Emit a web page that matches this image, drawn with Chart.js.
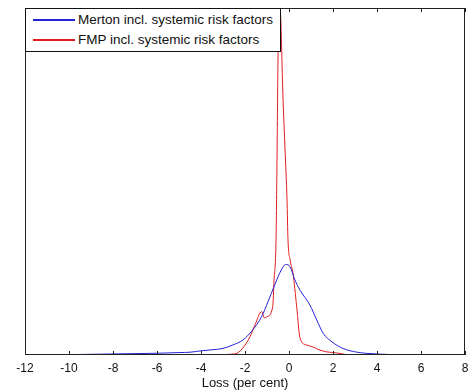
<!DOCTYPE html>
<html lang="en">
<head>
<meta charset="UTF-8">
<title>Loss distribution</title>
<script src="https://cdn.jsdelivr.net/npm/chart.js"></script>
<style>
    body { margin: 0; background: #fff; }
    #wrap { position: relative; width: 468px; height: 391px; }
    #legend {
        position: absolute;
        left: 25px;
        top: 8px;
        width: 256px;
        height: 44px;
        box-sizing: border-box;
        border: 1px solid #111;
        background: #fff;
        font-family: "Liberation Sans", Arial, sans-serif;
        font-size: 13.5px;
        color: #111;
    }
    .row {
        position: absolute;
        left: 0;
        height: 19px;
        display: flex;
        align-items: center;
        white-space: nowrap;
    }
    .swatch {
        display: inline-block;
        width: 42px;
        height: 2px;
        margin: 0 3px 0 7px;
    }
</style>
</head>
<body>
<div id="wrap">
    <canvas id="lossChart" width="468" height="391"></canvas>
    <div id="legend"></div>
</div>
<script>
const xTicks = [-12, -10, -8, -6, -4, -2, 0, 2, 4, 6, 8];
const seriesNames = ['Merton incl. systemic risk factors', 'FMP incl. systemic risk factors'];
const seriesColors = ['#2323d8', '#e01e1e'];

// Merton model, density (top of axes = 1)
const mertonX = [-10.1, -9, -8, -7, -6, -5, -4.5, -4, -3.5, -3, -2.55, -2.1, -1.65, -1.25, -0.95, -0.65, -0.35, -0.15, 0.05, 0.27, 0.5, 0.95, 1.26, 1.56, 1.95, 2.45, 3.1, 4, 5, 6.26];
const mertonY = [0.001, 0.002, 0.003, 0.004, 0.005, 0.007, 0.008, 0.012, 0.015, 0.019, 0.029, 0.043, 0.072, 0.11, 0.154, 0.202, 0.245, 0.261, 0.254, 0.216, 0.187, 0.144, 0.101, 0.062, 0.038, 0.019, 0.008, 0.003, 0.001, 0.001];

// FMP model
const fmpX = [-3.3, -2.45, -2.1, -1.77, -1.55, -1.24, -1.12, -1.01, -0.74, -0.68, -0.59, -0.545, -0.5, -0.41, -0.27, -0.18, -0.09, -0.045, 0.05, 0.18, 0.35, 0.5, 0.8, 1.09, 1.41, 1.71, 2.17, 2.62];
const fmpY = [0.001, 0.003, 0.02, 0.053, 0.086, 0.125, 0.107, 0.11, 0.139, 0.216, 0.331, 0.562, 0.85, 1.0, 0.735, 0.591, 0.447, 0.331, 0.274, 0.236, 0.139, 0.049, 0.029, 0.023, 0.014, 0.009, 0.006, 0.001];

const toPoints = (xs, ys) => xs.map((x, i) => ({ x: x, y: ys[i] }));

// legend box in the top-left corner of the axes
const legendEl = document.getElementById('legend');
seriesNames.forEach((name, i) => {
    const row = document.createElement('div');
    row.className = 'row';
    row.style.top = (1 + i * 20) + 'px';
    const sw = document.createElement('span');
    sw.className = 'swatch';
    sw.style.background = seriesColors[i];
    const txt = document.createElement('span');
    txt.textContent = name;
    row.appendChild(sw);
    row.appendChild(txt);
    legendEl.appendChild(row);
});

// MATLAB style box with inward ticks on top and bottom
const boxPlugin = {
    id: 'boxPlugin',
    afterDraw(chart) {
        const ctx = chart.ctx;
        const a = chart.chartArea;
        const xs = chart.scales.x;
        ctx.save();
        ctx.strokeStyle = '#222';
        ctx.lineWidth = 1;
        ctx.beginPath();
        xTicks.forEach(v => {
            const px = Math.round(xs.getPixelForValue(v)) + 0.5;
            ctx.moveTo(px, a.bottom);
            ctx.lineTo(px, a.bottom - 4);
            ctx.moveTo(px, a.top);
            ctx.lineTo(px, a.top + 4);
        });
        ctx.stroke();
        ctx.strokeRect(a.left + 0.5, a.top + 0.5, a.right - a.left - 1, a.bottom - a.top - 1);
        ctx.restore();
    }
};

new Chart(document.getElementById('lossChart'), {
    type: 'line',
    data: {
        datasets: [
            {
                label: seriesNames[0],
                data: toPoints(mertonX, mertonY),
                borderColor: seriesColors[0],
                borderWidth: 1,
                pointRadius: 0,
                cubicInterpolationMode: 'monotone'
            },
            {
                label: seriesNames[1],
                data: toPoints(fmpX, fmpY),
                borderColor: seriesColors[1],
                borderWidth: 1,
                pointRadius: 0,
                cubicInterpolationMode: 'monotone'
            }
        ]
    },
    options: {
        responsive: false,
        animation: false,
        devicePixelRatio: 1,
        layout: { padding: { left: 25, right: 3, top: 8, bottom: 0 } },
        plugins: {
            legend: { display: false },
            tooltip: { enabled: false }
        },
        scales: {
            x: {
                type: 'linear',
                min: -12,
                max: 8,
                afterBuildTicks: s => { s.ticks = xTicks.map(v => ({ value: v })); },
                afterFit: s => { s.height = 36; s.paddingLeft = 0; s.paddingRight = 0; },
                grid: { display: false, drawTicks: false },
                border: { display: false },
                ticks: {
                    padding: 6,
                    color: '#111',
                    font: { family: '"Liberation Sans", Arial, sans-serif', size: 12 },
                    maxRotation: 0,
                    autoSkip: false
                },
                title: {
                    display: true,
                    text: 'Loss (per cent)',
                    color: '#111',
                    padding: { top: 1, bottom: 0 },
                    font: { family: '"Liberation Sans", Arial, sans-serif', size: 13 }
                }
            },
            y: {
                min: 0,
                max: 1,
                afterFit: s => { s.width = 0; s.paddingTop = 0; s.paddingBottom = 0; },
                grid: { display: false, drawTicks: false },
                border: { display: false },
                ticks: { display: false }
            }
        }
    },
    plugins: [boxPlugin]
});
</script>
</body>
</html>
